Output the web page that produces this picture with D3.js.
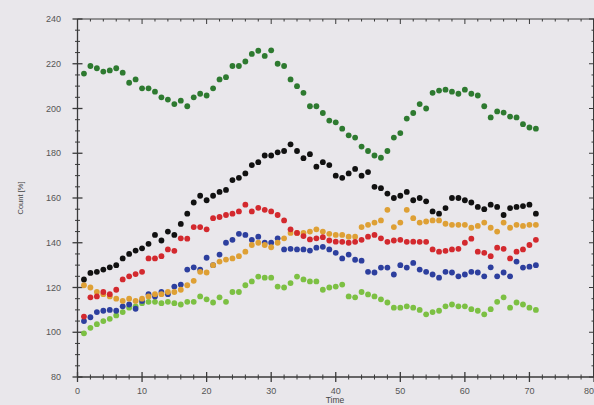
<!DOCTYPE html>
<html><head><meta charset="utf-8">
<script src="https://cdn.jsdelivr.net/npm/d3@7/dist/d3.min.js"></script>
<style>html,body{margin:0;padding:0;background:#e9e7eb;}svg{display:block;}</style>
</head><body><svg id="c" width="594" height="405"></svg>
<script>
const time = [1,2,3,4,5,6,7,8,9,10,11,12,13,14,15,16,17,18,19,20,21,22,23,24,25,26,27,28,29,30,31,32,33,34,35,36,37,38,39,40,41,42,43,44,45,46,47,48,49,50,51,52,53,54,55,56,57,58,59,60,61,62,63,64,65,66,67,68,69,70,71];
const darkGreen = [215.6,219,218,216.5,217,218,216,211.5,213,209,209,207.5,205,204,202,203.5,201,205,206.6,205.8,209,213,214,219,219,221,224.4,225.8,223.5,226,220,219,213,210,207,201,201,198,194.6,193.8,191,188,187,183,181,179,178,181,187,189,195.5,198,202,200,207,208,208.4,207.5,206.6,208.4,206.6,205.8,201,196,198.7,198.2,196.4,196,193,191.5,191];
const black = [123.6,126.5,127,128,129,130,133,135,136.5,137.5,139.5,143.5,141,145,143.5,148.4,153,158,161,159,161,162.7,163.6,168,169,171,174.7,176,179,179,180.4,181,184,181,177.8,179.6,174,176,174.7,170,169,171,173,170,171.6,165,164.4,162,160,161,162.7,159,160,158.5,154,153,155.5,160,160,159,158,156,155,157,156,152.4,155.5,156,156.4,157,153];
const orange = [121,120,118,117,116,115,114,115,114,115,116,117,117,118,118,119,121,123,127,126.7,130,131.6,132.5,133,134,136,139,140,139,138,140,142,144.4,144.4,144.4,145,146,145,144,143.5,143.5,142.7,142.7,147,148,149,150,154.7,147,149,154.7,151,149,149.5,150,150,148.5,148,148,148,146.7,147.5,149,146.7,145,149,146.7,148,147.5,148,148];
const red = [107,115.6,116,118,117,119,123.6,125,126,127,133,133,134,137,136.4,142,141.8,147,147,146,151,151.5,152.4,153,154,157,154,155.6,154.7,154,152.4,150,146,144.4,143,141.5,142,142.5,141,140.5,140.4,140,140.4,141.3,142.7,143.5,142,140.4,141,141.3,140.4,140.5,140.4,140.4,137,136,136.4,137,137.3,140,141.8,136,135.5,134,137.8,137.3,133,136,137,139,141.3];
const blue = [105,106.7,109,109.6,110,109.6,111.6,112.4,110.5,114,117,116,118,117,120.4,121.3,128,129,128,133.3,130,134.7,140,141.3,144,143.5,141.3,142.7,140,140,142,137,137.3,137,137,136.5,137.8,138.2,137,135.5,133,134.7,132.4,132,127,126.7,128.9,128.9,125.8,130,128.9,131,128,127,125.8,124.4,127,126.7,125,125.8,127,126.7,125,129,125,126.7,125,131.6,128.9,129.3,130];
const lightGreen = [99.5,102,103.6,105,106,107.5,109,111,111.6,113,113.6,113.6,113,113.6,113,112.4,113.6,113.6,116,114.7,113.3,115.6,113.6,118,118,121,122.7,124.9,124.4,124.4,120.4,120,122,124.9,123.6,122.7,122.7,119,120,120.4,121.3,116,115.6,118,116.9,116,114.7,113.3,111,111,111.6,111,110,108,109,109.6,111.6,112.4,111.6,111.6,110.3,109.6,108,110.3,113.6,115.6,111,113.3,112.4,111,110];
const seriesNames = ["lightGreen","blue","orange","red","black","darkGreen"];
const seriesColors = ["#7cc043","#2d3f9e","#dea035","#d3292e","#111111","#2e7a30"];
const xTicks = [0,10,20,30,40,50,60,70,80];
const yTicks = [80,100,120,140,160,180,200,220,240];

const seriesData = [lightGreen, blue, orange, red, black, darkGreen];
const svg = d3.select("#c");
const x = d3.scaleLinear().domain([0,80]).range([77.5,594]);
const y = d3.scaleLinear().domain([80,240]).range([377,19]);
const axisColor = "#3a3a3a";
const font = "Liberation Sans, Arial, sans-serif";

const xMinor = d3.range(0,81,2), yMinor = d3.range(80,241,5);
const g = svg.append("g");

g.append("line").attr("x1",x(0)).attr("x2",x(80)).attr("y1",y(80)).attr("y2",y(80)).attr("stroke",axisColor).attr("stroke-width",1.3);
g.append("line").attr("x1",x(0)).attr("x2",x(0)).attr("y1",y(80)).attr("y2",y(240)).attr("stroke",axisColor).attr("stroke-width",1.3);
g.append("line").attr("x1",x(0)).attr("x2",x(80)).attr("y1",y(240)).attr("y2",y(240)).attr("stroke",axisColor).attr("stroke-width",1);
g.append("line").attr("x1",x(80)-0.5).attr("x2",x(80)-0.5).attr("y1",y(80)).attr("y2",y(240)).attr("stroke",axisColor).attr("stroke-width",1);

g.selectAll(".bx").data(xMinor).join("line")
  .attr("x1",d=>x(d)).attr("x2",d=>x(d))
  .attr("y1",d=>y(80)-(d%10===0?5:2.5)).attr("y2",d=>y(80)+(d%10===0?5:2.5))
  .attr("stroke",axisColor).attr("stroke-width",d=>d%10===0?1.3:1);
g.selectAll(".tx").data(xMinor).join("line")
  .attr("x1",d=>x(d)).attr("x2",d=>x(d))
  .attr("y1",y(240)).attr("y2",d=>y(240)+(d%10===0?5:2.5))
  .attr("stroke",axisColor).attr("stroke-width",1);
g.selectAll(".ly").data(yMinor).join("line")
  .attr("y1",d=>y(d)).attr("y2",d=>y(d))
  .attr("x1",d=>x(0)-(d%20===0?5:2.5)).attr("x2",d=>x(0)+(d%20===0?5:2.5))
  .attr("stroke",axisColor).attr("stroke-width",d=>d%20===0?1.3:1);
g.selectAll(".ry").data(yMinor).join("line")
  .attr("y1",d=>y(d)).attr("y2",d=>y(d))
  .attr("x1",x(80)).attr("x2",d=>x(80)-(d%20===0?5:2.5))
  .attr("stroke",axisColor).attr("stroke-width",1);

g.selectAll(".xl").data(xTicks).join("text")
  .attr("x",d=>d===80?594:x(d)).attr("y",y(80)+17)
  .attr("text-anchor",d=>d===80?"end":"middle")
  .attr("font-family",font).attr("font-size",9).attr("fill","#555")
  .text(d=>d);
g.selectAll(".yl").data(yTicks).join("text")
  .attr("x",61).attr("y",d=>y(d)+3).attr("text-anchor","end")
  .attr("font-family",font).attr("font-size",9).attr("fill","#555")
  .text(d=>d);

svg.append("text").attr("transform","translate(23,198) rotate(-90)").attr("text-anchor","middle")
  .attr("font-family",font).attr("font-size",7.5).attr("fill","#444").text("Count [%]");
svg.append("text").attr("x",335).attr("y",403).attr("text-anchor","middle")
  .attr("font-family",font).attr("font-size",8.5).attr("fill","#444").text("Time");

seriesData.forEach((vals,i)=>{
  svg.append("g").attr("class",seriesNames[i]).selectAll("circle").data(vals).join("circle")
    .attr("cx",(d,j)=>x(time[j])).attr("cy",d=>y(d)).attr("r",2.9)
    .attr("fill",seriesColors[i]);
});
</script></body></html>
